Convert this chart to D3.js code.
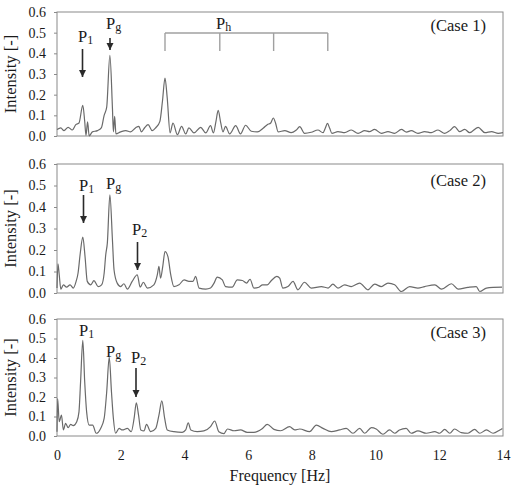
<!DOCTYPE html>
<html>
<head>
<meta charset="utf-8">
<script src="https://cdn.jsdelivr.net/npm/d3@7/dist/d3.min.js"></script>
<style>
  html, body { margin: 0; padding: 0; background: #fff; }
  svg { display: block; font-family: "Liberation Serif", "Times New Roman", serif; }
</style>
</head>
<body>
<svg id="chart" width="511" height="490"></svg>
<script>
// ---------- DATA ----------
const caseLabels = ["(Case 1)", "(Case 2)", "(Case 3)"];
const yTickValues = [0, 0.1, 0.2, 0.3, 0.4, 0.5, 0.6];
const xTickValues = [0, 2, 4, 6, 8, 10, 12, 14];
const xTitle = "Frequency [Hz]";
const yTitle = "Intensity [-]";

const freq1 = [0.0,0.12,0.22,0.35,0.48,0.59,0.69,0.81,0.87,0.91,0.96,1.01,1.11,1.27,1.39,1.48,1.56,1.66,1.74,1.77,1.81,1.85,2.0,2.16,2.31,2.47,2.57,2.65,2.75,2.86,2.99,3.1,3.23,3.31,3.39,3.46,3.55,3.64,3.78,3.91,4.04,4.14,4.3,4.51,4.67,4.82,4.91,4.99,5.06,5.14,5.21,5.29,5.42,5.61,5.76,5.92,6.1,6.29,6.48,6.6,6.71,6.79,6.86,6.94,7.15,7.35,7.51,7.62,7.77,7.98,8.19,8.35,8.42,8.49,8.56,8.63,8.82,9.03,9.24,9.45,9.66,9.81,9.97,10.18,10.39,10.6,10.81,10.97,11.12,11.33,11.54,11.75,11.96,12.17,12.33,12.48,12.64,12.8,12.95,13.22,13.43,13.64,13.85,14.0];
const int1 = [0.031,0.039,0.026,0.042,0.029,0.055,0.063,0.148,0.07,0.003,0.068,0.0,0.02,0.026,0.039,0.10,0.14,0.39,0.135,0.02,0.095,0.01,0.02,0.026,0.02,0.04,0.047,0.02,0.04,0.055,0.026,0.04,0.071,0.168,0.28,0.184,0.015,0.063,0.006,0.047,0.01,0.039,0.015,0.042,0.015,0.05,0.015,0.071,0.124,0.063,0.02,0.047,0.01,0.05,0.01,0.052,0.023,0.02,0.039,0.055,0.063,0.087,0.063,0.02,0.026,0.016,0.029,0.045,0.013,0.018,0.029,0.016,0.037,0.061,0.037,0.013,0.021,0.016,0.029,0.013,0.026,0.021,0.032,0.013,0.021,0.013,0.032,0.019,0.026,0.013,0.021,0.016,0.029,0.013,0.026,0.045,0.021,0.032,0.016,0.042,0.016,0.021,0.013,0.016];

const freq2 = [0.0,0.03,0.07,0.12,0.2,0.3,0.41,0.51,0.6,0.66,0.73,0.81,0.88,0.95,1.06,1.16,1.29,1.4,1.48,1.53,1.58,1.66,1.74,1.79,1.89,2.0,2.1,2.21,2.36,2.52,2.61,2.71,2.84,3.04,3.15,3.2,3.25,3.32,3.39,3.48,3.57,3.67,3.83,3.99,4.14,4.27,4.35,4.46,4.67,4.82,4.93,5.03,5.19,5.29,5.5,5.66,5.82,5.95,6.06,6.18,6.34,6.45,6.6,6.73,6.9,6.99,7.09,7.25,7.41,7.56,7.77,7.98,8.3,8.51,8.66,8.82,9.03,9.24,9.5,9.76,9.97,10.18,10.39,10.6,10.81,11.07,11.33,11.54,11.86,12.07,12.38,12.59,12.9,13.16,13.27,13.48,13.69,13.97];
const int2 = [0.023,0.136,0.085,0.018,0.038,0.027,0.038,0.023,0.054,0.092,0.185,0.26,0.17,0.054,0.038,0.058,0.03,0.038,0.092,0.178,0.232,0.457,0.248,0.108,0.046,0.03,0.043,0.018,0.054,0.085,0.027,0.05,0.023,0.038,0.085,0.124,0.069,0.124,0.193,0.17,0.085,0.03,0.038,0.061,0.054,0.054,0.077,0.023,0.018,0.023,0.046,0.074,0.061,0.03,0.027,0.061,0.058,0.046,0.064,0.023,0.027,0.038,0.038,0.058,0.077,0.069,0.023,0.03,0.054,0.015,0.05,0.023,0.03,0.023,0.041,0.023,0.038,0.03,0.046,0.015,0.041,0.03,0.046,0.038,0.007,0.03,0.023,0.03,0.038,0.018,0.043,0.018,0.026,0.03,0.007,0.023,0.026,0.027];

const freq3 = [0.0,0.02,0.07,0.14,0.2,0.27,0.35,0.43,0.51,0.62,0.69,0.74,0.81,0.87,0.93,1.01,1.12,1.23,1.37,1.48,1.56,1.64,1.71,1.77,1.84,1.95,2.05,2.21,2.33,2.42,2.49,2.56,2.63,2.73,2.81,2.94,3.1,3.2,3.29,3.38,3.46,3.67,3.93,4.04,4.12,4.2,4.4,4.61,4.82,4.95,5.08,5.24,5.35,5.56,5.76,5.97,6.18,6.45,6.6,6.81,7.02,7.3,7.46,7.62,7.93,8.14,8.35,8.61,8.87,9.08,9.29,9.5,9.66,9.87,10.02,10.23,10.44,10.6,10.75,10.96,11.12,11.33,11.59,11.86,12.01,12.17,12.33,12.48,12.69,12.9,13.11,13.27,13.48,13.69,13.9,13.98];
const int3 = [0.022,0.192,0.073,0.107,0.031,0.065,0.043,0.06,0.053,0.073,0.124,0.277,0.49,0.277,0.124,0.056,0.056,0.014,0.039,0.09,0.226,0.405,0.226,0.09,0.014,0.039,0.031,0.039,0.022,0.09,0.17,0.107,0.031,0.026,0.06,0.022,0.039,0.107,0.18,0.09,0.031,0.022,0.019,0.031,0.068,0.031,0.022,0.026,0.048,0.077,0.022,0.012,0.036,0.027,0.031,0.019,0.019,0.039,0.06,0.034,0.027,0.048,0.031,0.036,0.022,0.056,0.039,0.022,0.031,0.039,0.014,0.039,0.014,0.043,0.036,0.009,0.031,0.014,0.031,0.039,0.014,0.026,0.014,0.022,0.014,0.034,0.014,0.036,0.017,0.014,0.034,0.014,0.031,0.014,0.031,0.039];

const harmonicFreqs = [3.39, 5.11, 6.8, 8.5];

// ---------- LAYOUT ----------
const plotLeft = 57, plotRight = 503;
const panels = [
  { top: 12,  bottom: 136, freq: freq1, vals: int1, caseY: 19 },
  { top: 164, bottom: 293, freq: freq2, vals: int2, caseY: 22 },
  { top: 319, bottom: 436, freq: freq3, vals: int3, caseY: 19 }
];
const FONT = "Liberation Serif, Times New Roman, serif";
const svg = d3.select("#chart");
const x = d3.scaleLinear().domain([0, 14]).range([plotLeft, plotRight]);

const defs = svg.append("defs");
defs.append("marker").attr("id", "ah").attr("viewBox", "0 0 10 10")
  .attr("refX", 10).attr("refY", 5).attr("markerWidth", 7).attr("markerHeight", 8)
  .attr("markerUnits", "userSpaceOnUse").attr("orient", "auto")
  .append("path").attr("d", "M0,0 L10,5 L0,10 Z").attr("fill", "#2a2a2a");

function pLabel(g, px, py, sub) {
  const t = g.append("text").attr("x", px).attr("y", py)
    .attr("font-size", 16.5).attr("fill", "#1a1a1a");
  t.append("tspan").text("P");
  t.append("tspan").attr("font-size", 12).attr("dy", 2).text(sub);
}
function arrow(g, px, y1, y2) {
  g.append("line").attr("x1", px).attr("x2", px).attr("y1", y1).attr("y2", y2)
    .attr("stroke", "#2a2a2a").attr("stroke-width", 1.6).attr("marker-end", "url(#ah)");
}

panels.forEach((p, i) => {
  const y = d3.scaleLinear().domain([0, 0.6]).range([p.bottom, p.top]);
  const g = svg.append("g");

  g.append("rect").attr("x", plotLeft).attr("y", p.top)
    .attr("width", plotRight - plotLeft).attr("height", p.bottom - p.top)
    .attr("fill", "none").attr("stroke", "#8a8a8a").attr("stroke-width", 1);

  const ya = g.append("g").attr("transform", `translate(${plotLeft},0)`)
    .call(d3.axisLeft(y).tickValues(yTickValues).tickFormat(d3.format(".1f")).tickSize(3).tickPadding(8));
  ya.select(".domain").remove();
  ya.selectAll("line").attr("stroke", "#8a8a8a");
  ya.selectAll("text").attr("font-size", 14).attr("fill", "#1a1a1a").attr("font-family", FONT);

  g.append("text").attr("transform", `translate(16,${(p.top + p.bottom) / 2}) rotate(-90)`)
    .attr("text-anchor", "middle").attr("font-size", 16.5).attr("fill", "#1a1a1a").text(yTitle);

  const pts = p.freq.map((f, k) => [f, p.vals[k]]);
  g.append("path").datum(pts)
    .attr("d", d3.line().x(d => x(d[0])).y(d => y(d[1])).curve(d3.curveMonotoneX))
    .attr("fill", "none").attr("stroke", "#6a6a6a").attr("stroke-width", 1.2);

  g.append("text").attr("x", 486).attr("y", p.top + p.caseY).attr("text-anchor", "end")
    .attr("font-size", 16.5).attr("fill", "#1a1a1a").text(caseLabels[i]);

  if (i === 2) {
    const xa = g.append("g").attr("transform", `translate(0,${p.bottom})`)
      .call(d3.axisBottom(x).tickValues(xTickValues).tickSize(0).tickPadding(14));
    xa.select(".domain").remove();
    xa.selectAll("text").attr("font-size", 14).attr("fill", "#1a1a1a").attr("font-family", FONT);
    g.append("text").attr("x", 280).attr("y", 481).attr("text-anchor", "middle")
      .attr("font-size", 16).attr("fill", "#1a1a1a").text(xTitle);
  }

  if (i === 0) {
    pLabel(g, 78, 42, "1");
    arrow(g, 82.5, 49, 77);
    pLabel(g, 106, 28.5, "g");
    arrow(g, 110, 38, 50);
    pLabel(g, 216, 28.5, "h");
    const by = 33, bb = 51;
    g.append("line").attr("x1", x(harmonicFreqs[0])).attr("x2", x(harmonicFreqs[3]))
      .attr("y1", by).attr("y2", by).attr("stroke", "#a0a0a0").attr("stroke-width", 1.4);
    harmonicFreqs.forEach(f => {
      g.append("line").attr("x1", x(f)).attr("x2", x(f)).attr("y1", by).attr("y2", bb)
        .attr("stroke", "#a0a0a0").attr("stroke-width", 1.4);
    });
  } else if (i === 1) {
    pLabel(g, 79, 190.5, "1");
    arrow(g, 83.5, 195, 223);
    pLabel(g, 106, 188.5, "g");
    pLabel(g, 132, 235, "2");
    arrow(g, 137.5, 242, 270);
  } else {
    pLabel(g, 79, 335.5, "1");
    pLabel(g, 106, 357, "g");
    pLabel(g, 131, 363, "2");
    arrow(g, 136, 368, 397);
  }
});
</script>
</body>
</html>
